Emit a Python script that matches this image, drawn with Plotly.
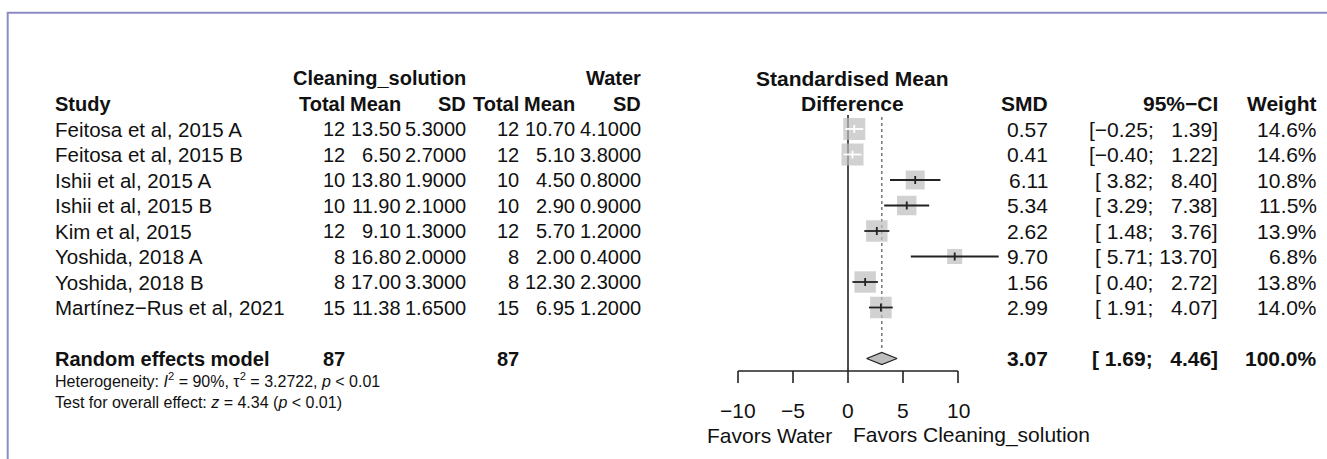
import math
import plotly.graph_objects as go

# ---------------- data ----------------
studies = ["Feitosa et al, 2015 A", "Feitosa et al, 2015 B", "Ishii et al, 2015 A",
           "Ishii et al, 2015 B", "Kim et al, 2015", "Yoshida, 2018 A",
           "Yoshida, 2018 B", "Martínez−Rus et al, 2021"]
n_e = [12, 12, 10, 10, 12, 8, 8, 15]
mean_e = [13.50, 6.50, 13.80, 11.90, 9.10, 16.80, 17.00, 11.38]
sd_e = [5.3, 2.7, 1.9, 2.1, 1.3, 2.0, 3.3, 1.65]
n_c = [12, 12, 10, 10, 12, 8, 8, 15]
mean_c = [10.70, 5.10, 4.50, 2.90, 5.70, 2.00, 12.30, 6.95]
sd_c = [4.1, 3.8, 0.8, 0.9, 1.2, 0.4, 2.3, 1.2]
smd = [0.57, 0.41, 6.11, 5.34, 2.62, 9.70, 1.56, 2.99]
ci_lo = [-0.25, -0.40, 3.82, 3.29, 1.48, 5.71, 0.40, 1.91]
ci_hi = [1.39, 1.22, 8.40, 7.38, 3.76, 13.70, 2.72, 4.07]
weight = [14.6, 14.6, 10.8, 11.5, 13.9, 6.8, 13.8, 14.0]

re_label = "Random effects model"
re_n_e = 87
re_n_c = 87
re_smd = 3.07
re_lo = 1.69
re_hi = 4.46
re_weight = 100.0

het_line = "Heterogeneity: <i>I</i><sup>2</sup> = 90%, τ<sup>2</sup> = 3.2722, <i>p</i> &lt; 0.01"
test_line = "Test for overall effect: <i>z</i> = 4.34 (<i>p</i> &lt; 0.01)"

axis_ticks = [-10, -5, 0, 5, 10]
label_left = "Favors Water"
label_right = "Favors Cleaning_solution"
group_e = "Cleaning_solution"
group_c = "Water"

# ---------------- layout constants (pixels) ----------------
W, H = 1327, 459
X0_PX = 848.0          # pixel of SMD = 0
PX_UNIT = 11.0         # pixels per SMD unit
ROW0_PX = 78.0         # pixel of header row 0
ROW_STEP = 25.5        # pixels per row

def row_of(px):
    return (px - ROW0_PX) / ROW_STEP

def px_paper(px):
    return px / W

FONT = "Liberation Sans, Arial, Helvetica, sans-serif"
TXT = "#111111"
FS_S = 20.5     # study names
FS_L = 20       # left table numbers
FS_H = 20       # left table headers (bold)
FS_R = 21       # right columns / plot labels

# column right edges (pixels)
STUDY_L = 53
C_TOT_E, C_MEAN_E, C_SD_E = 347, 403, 468
C_TOT_C, C_MEAN_C, C_SD_C = 521, 577, 643
C_SMD, C_CI, C_W = 1050, 1220, 1319
PLOT_CENTER = 852

study_rows = [2 + i for i in range(len(studies))]
re_row = 11

FIG_SP = "\u2007"
NB_SP = "\u00a0"

def num(v, d):
    s = f"{abs(v):.{d}f}"
    return ("−" + s) if v < 0 else s

def ci_str(lo, hi, wl, wh):
    a = num(lo, 2)
    b = num(hi, 2)
    a = NB_SP * (wl - len(a)) + a
    b = FIG_SP * (wh - len(b)) + b
    return "[" + a + ";" + NB_SP + b + "]"

wl = max(len(num(v, 2)) for v in ci_lo + [re_lo])
wh = max(len(num(v, 2)) for v in ci_hi + [re_hi])

fig = go.Figure()

# zero line
fig.add_trace(go.Scatter(x=[0, 0], y=[row_of(115), row_of(371)], mode="lines",
                         line=dict(color="#222222", width=1.6), hoverinfo="skip"))
# dotted line at pooled estimate
fig.add_trace(go.Scatter(x=[re_smd, re_smd], y=[row_of(117), row_of(350)], mode="lines",
                         line=dict(color="#777777", width=1.5, dash="dot"), hoverinfo="skip"))

# squares
wmax = max(weight)
sizes = [22.0 * math.sqrt(w / wmax) for w in weight]
fig.add_trace(go.Scatter(x=smd, y=study_rows, mode="markers",
                         marker=dict(symbol="square", size=sizes, color="#bdbdbd",
                                     line=dict(width=0)), hoverinfo="skip"))

# CI lines and estimate ticks
tick_h = 4.0 / ROW_STEP
for lo, hi, est, r, s in zip(ci_lo, ci_hi, smd, study_rows, sizes):
    inside = (hi - lo) * PX_UNIT < s
    col = "#ffffff" if inside else "#222222"
    fig.add_trace(go.Scatter(x=[lo, hi], y=[r, r], mode="lines",
                             line=dict(color=col, width=1.8), hoverinfo="skip"))
    fig.add_trace(go.Scatter(x=[est, est], y=[r - tick_h, r + tick_h], mode="lines",
                             line=dict(color=col, width=1.8), hoverinfo="skip"))

# diamond
dh = 6.0 / ROW_STEP
fig.add_trace(go.Scatter(x=[re_lo, re_smd, re_hi, re_smd, re_lo],
                         y=[re_row, re_row - dh, re_row, re_row + dh, re_row],
                         mode="lines", fill="toself", fillcolor="#bdbdbd",
                         line=dict(color="#222222", width=1.2), hoverinfo="skip"))

# x axis drawn at bottom
ax_row = row_of(371)
tick_end = row_of(383)
fig.add_trace(go.Scatter(x=[min(axis_ticks), max(axis_ticks)], y=[ax_row, ax_row], mode="lines",
                         line=dict(color="#222222", width=1.6), hoverinfo="skip"))
tx, ty = [], []
for t in axis_ticks:
    tx += [t, t, None]
    ty += [ax_row, tick_end, None]
fig.add_trace(go.Scatter(x=tx, y=ty, mode="lines",
                         line=dict(color="#222222", width=1.6), hoverinfo="skip"))

ann = []

def text(px, row, s, anchor="right", size=FS_L, bold=False, xref="paper", xshift=0):
    if bold:
        s = "<b>" + s + "</b>"
    ann.append(dict(x=px_paper(px) if xref == "paper" else px, y=row, xref=xref, yref="y",
                    text=s, showarrow=False, xanchor=anchor, yanchor="middle", xshift=xshift,
                    font=dict(family=FONT, size=size, color=TXT)))

# headers
text(C_SD_E, 0, group_e, bold=True, size=FS_H)
text(C_SD_C, 0, group_c, bold=True, size=FS_H)
text(PLOT_CENTER, 0, "Standardised Mean", anchor="center", bold=True, size=FS_R)
text(PLOT_CENTER, 1, "Difference", anchor="center", bold=True, size=FS_R)
text(STUDY_L, 1, "Study", anchor="left", bold=True, size=FS_H)
for c, s in [(C_TOT_E, "Total"), (C_MEAN_E, "Mean"), (C_SD_E, "SD"),
             (C_TOT_C, "Total"), (C_MEAN_C, "Mean"), (C_SD_C, "SD")]:
    text(c, 1, s, bold=True, size=FS_H)
for c, s in [(C_SMD, "SMD"), (C_CI, "95%−CI"), (C_W, "Weight")]:
    text(c, 1, s, bold=True, size=FS_R)

# study rows
for i, r in enumerate(study_rows):
    text(STUDY_L, r, studies[i], anchor="left", size=FS_S)
    text(C_TOT_E, r, str(n_e[i]))
    text(C_MEAN_E, r, f"{mean_e[i]:.2f}")
    text(C_SD_E, r, f"{sd_e[i]:.4f}")
    text(C_TOT_C, r, str(n_c[i]))
    text(C_MEAN_C, r, f"{mean_c[i]:.2f}")
    text(C_SD_C, r, f"{sd_c[i]:.4f}")
    text(C_SMD, r, num(smd[i], 2), size=FS_R)
    text(C_CI, r, ci_str(ci_lo[i], ci_hi[i], wl, wh), size=FS_R)
    text(C_W, r, f"{weight[i]:.1f}%", size=FS_R)

# pooled row
text(STUDY_L, re_row, re_label, anchor="left", bold=True, size=FS_H)
text(C_TOT_E, re_row, str(re_n_e), bold=True, size=FS_H)
text(C_TOT_C, re_row, str(re_n_c), bold=True, size=FS_H)
text(C_SMD, re_row, num(re_smd, 2), bold=True, size=FS_R)
text(C_CI, re_row, ci_str(re_lo, re_hi, wl, wh), bold=True, size=FS_R)
text(C_W, re_row, f"{re_weight:.1f}%", bold=True, size=FS_R)

text(STUDY_L, row_of(380), het_line, anchor="left", size=16)
text(STUDY_L, row_of(402), test_line, anchor="left", size=16)

# axis tick labels
for t in axis_ticks:
    text(t, row_of(410), num(t, 0), anchor="center", xref="x", size=FS_R)
# favors labels
text(0, row_of(435), label_left, anchor="right", xref="x", size=FS_R, xshift=-14)
text(0, row_of(435), label_right, anchor="left", xref="x", size=FS_R, xshift=3)

# frame lines (decoration of the original figure panel)
shapes = [
    dict(type="line", xref="paper", yref="paper", x0=px_paper(7), x1=1, y0=1 - 12.7 / H, y1=1 - 12.7 / H,
         line=dict(color="#8a8ac6", width=2)),
    dict(type="line", xref="paper", yref="paper", x0=px_paper(7.7), x1=px_paper(7.7), y0=0, y1=1 - 12 / H,
         line=dict(color="#8a8ac6", width=2)),
]

fig.update_layout(
    width=W, height=H, margin=dict(l=0, r=0, t=0, b=0),
    paper_bgcolor="white", plot_bgcolor="white", showlegend=False,
    xaxis=dict(range=[(0 - X0_PX) / PX_UNIT, (W - X0_PX) / PX_UNIT], visible=False, fixedrange=True),
    yaxis=dict(range=[row_of(H), row_of(0)], visible=False, fixedrange=True),
    annotations=ann, shapes=shapes,
)

fig.write_html("out.html", config={"displayModeBar": False, "staticPlot": True},
               post_script="document.body.style.margin='0';document.body.style.overflow='hidden';")
